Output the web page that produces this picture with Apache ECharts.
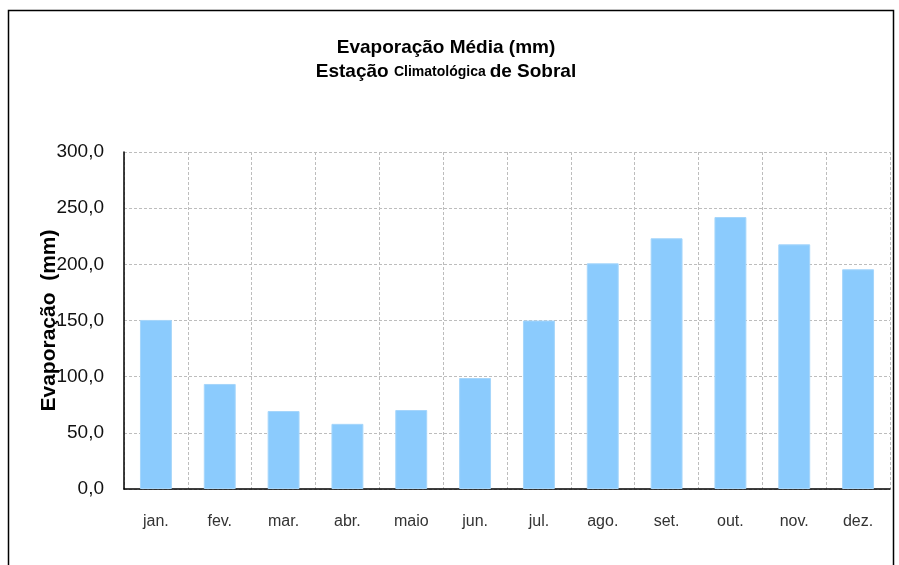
<!DOCTYPE html>
<html>
<head>
<meta charset="utf-8">
<script src="https://cdn.jsdelivr.net/npm/echarts@6/dist/echarts.min.js"></script>
<style>
  html, body { margin: 0; padding: 0; background: #fff; }
  #chart { width: 899px; height: 565px; }
</style>
</head>
<body>
<div id="chart"></div>
<script>
// meses
var months = ['jan.', 'fev.', 'mar.', 'abr.', 'maio', 'jun.', 'jul.', 'ago.', 'set.', 'out.', 'nov.', 'dez.']
// evaporação média (mm)
var evaporacao = [150.5, 93.5, 69.4, 58.0, 70.3, 98.8, 150.0, 200.9, 223.2, 242.1, 217.8, 195.6]
var yTicks = [0, 50, 100, 150, 200, 250, 300]

var narrow = "'Liberation Sans Narrow', 'Arial Narrow', 'Liberation Sans', sans-serif"

var myChart = echarts.init(document.getElementById('chart'))
myChart.setOption({
  animation: false,
  title: {
    text: '{a|Evaporação Média (mm)}\n{a|Estação }{b|Climatológica }{a|de Sobral}',
    left: 441,
    top: 31,
    textAlign: 'center',
    textStyle: {
      rich: {
        a: { fontFamily: narrow, fontWeight: 'bold', fontSize: 19, color: '#000', lineHeight: 24 },
        b: { fontFamily: narrow, fontWeight: 'bold', fontSize: 14, color: '#000', lineHeight: 24 }
      }
    }
  },
  graphic: [{
    type: 'rect',
    shape: { x: 8.5, y: 10.5, width: 885, height: 600 },
    style: { fill: 'none', stroke: '#000', lineWidth: 1.5 },
    silent: true
  }],
  grid: {
    left: 124,
    top: 152,
    right: 9,
    bottom: 76
  },
  xAxis: {
    type: 'category',
    data: months,
    axisLine: { show: true, lineStyle: { color: '#000', width: 1.5 } },
    axisTick: { show: false },
    axisLabel: {
      margin: 25,
      fontFamily: 'Liberation Sans, Arial, sans-serif',
      fontSize: 16,
      color: '#333'
    },
    splitLine: {
      show: true,
      interval: 0,
      lineStyle: { color: '#bdbdbd', type: [3, 2], width: 1 }
    }
  },
  yAxis: {
    type: 'value',
    min: 0,
    max: 300,
    interval: 50,
    name: 'Evaporação  (mm)',
    nameLocation: 'middle',
    nameGap: 64,
    nameMoveOverlap: false,
    nameTextStyle: {
      fontFamily: 'Liberation Sans, Arial, sans-serif',
      fontWeight: 'bold',
      fontSize: 21,
      color: '#000'
    },
    axisLine: { show: true, lineStyle: { color: '#000', width: 1.5 } },
    axisTick: { show: false },
    axisLabel: {
      margin: 20,
      fontFamily: 'Liberation Sans, Arial, sans-serif',
      fontSize: 19,
      color: '#111',
      formatter: function (v) {
        return yTicks.indexOf(v) >= 0 ? v.toFixed(1).replace('.', ',') : ''
      }
    },
    splitLine: {
      show: true,
      lineStyle: { color: '#bdbdbd', type: [3, 2], width: 1 }
    }
  },
  series: [{
    type: 'bar',
    data: evaporacao,
    barWidth: '50%',
    itemStyle: {
      color: '#8bcbfd',
      borderColor: '#a6d6fb',
      borderWidth: 1
    }
  }]
})
</script>
</body>
</html>
